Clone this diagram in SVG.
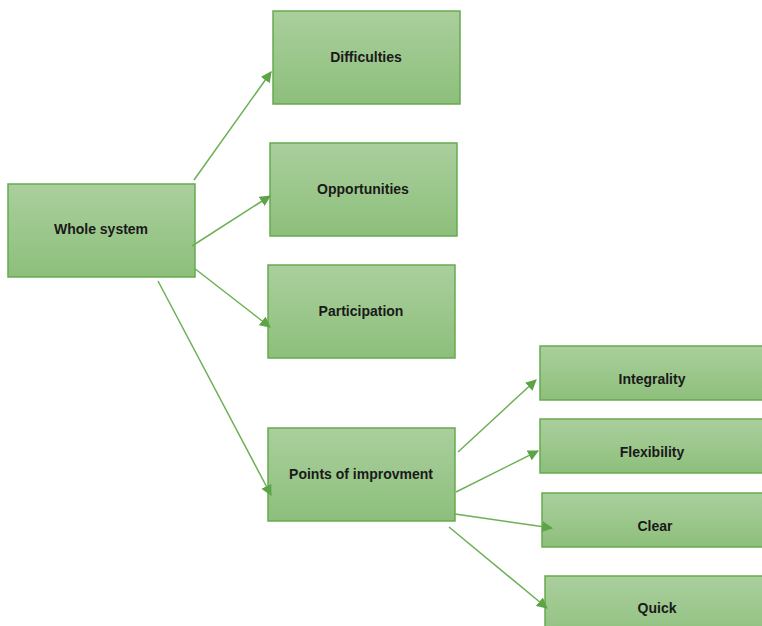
<svg xmlns="http://www.w3.org/2000/svg" width="762" height="626" viewBox="0 0 762 626">
  <defs>
    <linearGradient id="boxFill" x1="0" y1="0" x2="0" y2="1">
      <stop offset="0" stop-color="#aacf9d"/>
      <stop offset="1" stop-color="#8dbf7b"/>
    </linearGradient>
    <marker id="arrow" viewBox="0 0 10 10" refX="9" refY="5" markerWidth="11" markerHeight="11" markerUnits="userSpaceOnUse" orient="auto">
      <path d="M0,0 L10,5 L0,10 Z" fill="#5da447"/>
    </marker>
    <style>
      .box { fill: url(#boxFill); stroke: #66aa4f; stroke-width: 1.5; }
      .label { font-family: "Liberation Sans", Arial, sans-serif; font-weight: bold; font-size: 14px; fill: #1a1a1a; text-anchor: middle; dominant-baseline: central; }
      .edge { stroke: #6cb055; stroke-width: 1.5; fill: none; marker-end: url(#arrow); }
    </style>
  </defs>
  <rect width="762" height="626" fill="#ffffff"/>

  <g id="whole-system">
    <rect class="box" x="8" y="184" width="187" height="93"/>
    <text class="label" x="101" y="229">Whole system</text>
  </g>
  <g id="difficulties">
    <rect class="box" x="273" y="11" width="187" height="93"/>
    <text class="label" x="366" y="57">Difficulties</text>
  </g>
  <g id="opportunities">
    <rect class="box" x="270" y="143" width="187" height="93"/>
    <text class="label" x="363" y="189">Opportunities</text>
  </g>
  <g id="participation">
    <rect class="box" x="268" y="265" width="187" height="93"/>
    <text class="label" x="361" y="311">Participation</text>
  </g>
  <g id="points-of-improvment">
    <rect class="box" x="268" y="428" width="187" height="93"/>
    <text class="label" x="361" y="474">Points of improvment</text>
  </g>
  <g id="integrality">
    <rect class="box" x="540" y="346" width="240" height="54"/>
    <text class="label" x="652" y="379">Integrality</text>
  </g>
  <g id="flexibility">
    <rect class="box" x="540" y="419" width="240" height="54"/>
    <text class="label" x="652" y="452">Flexibility</text>
  </g>
  <g id="clear">
    <rect class="box" x="542" y="493" width="240" height="54"/>
    <text class="label" x="655" y="526">Clear</text>
  </g>
  <g id="quick">
    <rect class="box" x="545" y="576" width="240" height="70"/>
    <text class="label" x="657" y="608">Quick</text>
  </g>

  <!-- connectors sit on top of the boxes -->
  <g id="connectors">
    <line class="edge" x1="194" y1="180" x2="271" y2="72"/>
    <line class="edge" x1="192" y1="246" x2="270" y2="196"/>
    <line class="edge" x1="194" y1="268" x2="270" y2="327"/>
    <line class="edge" x1="158" y1="281" x2="271" y2="495"/>
    <line class="edge" x1="458" y1="452" x2="536" y2="380"/>
    <line class="edge" x1="456" y1="492" x2="538" y2="451"/>
    <line class="edge" x1="455" y1="514" x2="552" y2="528"/>
    <line class="edge" x1="449" y1="527" x2="547" y2="608"/>
  </g>
</svg>
